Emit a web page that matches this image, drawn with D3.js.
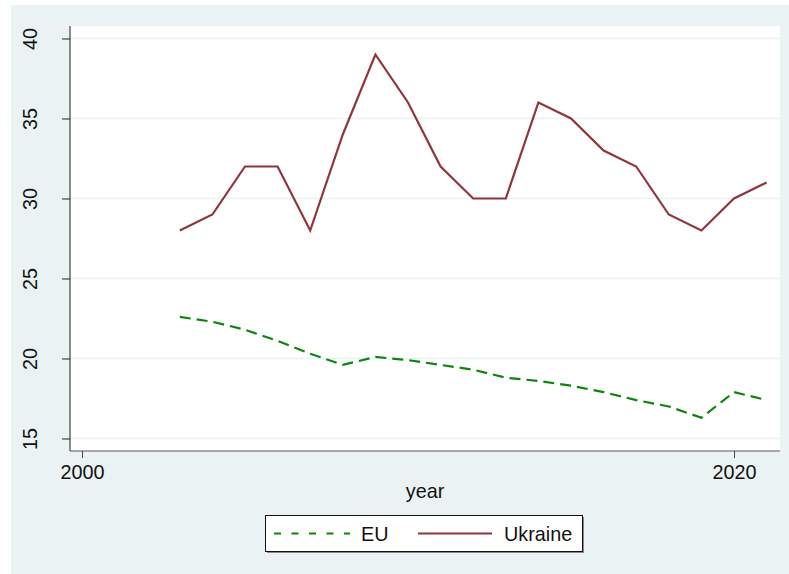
<!DOCTYPE html>
<html>
<head>
<meta charset="utf-8">
<script src="https://cdn.jsdelivr.net/npm/d3@7"></script>
<style>
  body { margin: 0; background: #fff; }
  svg { display: block; font-family: "Liberation Sans", Arial, sans-serif; }
</style>
</head>
<body>
<svg width="789" height="574"></svg>
<script>
// data
const years = [2003, 2004, 2005, 2006, 2007, 2008, 2009, 2010, 2011, 2012, 2013,
               2014, 2015, 2016, 2017, 2018, 2019, 2020, 2021];
const ukraine = [28, 29, 32, 32, 28, 34, 39, 36, 32, 30, 30, 36, 35, 33, 32, 29, 28, 30, 31];
const eu = [22.6, 22.3, 21.8, 21.1, 20.3, 19.6, 20.1, 19.9, 19.6, 19.3, 18.8,
            18.6, 18.3, 17.9, 17.4, 17.0, 16.3, 17.9, 17.4];
const yTicks = [15, 20, 25, 30, 35, 40];
const xTicks = [2000, 2020];

const fs = 19.8;
const svg = d3.select("svg");

// outer background (Stata-like)
svg.append("rect")
    .attr("x", 11).attr("y", 5)
    .attr("width", 778).attr("height", 569)
    .attr("fill", "#eaf2f3");

const plot = { left: 70, right: 780, top: 26, bottom: 451 };

svg.append("rect")
    .attr("x", plot.left).attr("y", plot.top)
    .attr("width", plot.right - plot.left).attr("height", plot.bottom - plot.top)
    .attr("fill", "#fff");

const x = d3.scaleLinear().domain([2000, 2020]).range([82, 734]);
const y = d3.scaleLinear().domain([15, 40]).range([438.5, 38.5]);

// gridlines
svg.append("g").selectAll("line")
    .data(yTicks)
    .enter()
    .append("line")
    .attr("x1", plot.left).attr("x2", plot.right)
    .attr("y1", d => y(d)).attr("y2", d => y(d))
    .attr("stroke", "#eaf2f3")
    .attr("stroke-width", 1.5);

// y axis
const yAxis = svg.append("g")
    .attr("transform", `translate(${plot.left},0)`)
    .call(d3.axisLeft(y).tickValues(yTicks).tickSize(8).tickSizeOuter(0).tickFormat(d3.format("d")));
yAxis.select(".domain").attr("d", `M0,${plot.top}V${plot.bottom}`).attr("stroke", "#222");
yAxis.selectAll(".tick line").attr("stroke", "#222");
yAxis.selectAll(".tick text")
    .attr("x", null).attr("dy", null)
    .attr("transform", "translate(-33,0) rotate(-90)")
    .attr("text-anchor", "middle")
    .attr("font-size", fs)
    .attr("fill", "#111");

// x axis
const xAxis = svg.append("g")
    .attr("transform", `translate(0,${plot.bottom})`)
    .call(d3.axisBottom(x).tickValues(xTicks).tickSize(7).tickSizeOuter(0).tickFormat(d3.format("d")));
xAxis.select(".domain").attr("d", `M${plot.left},0H${plot.right}`).attr("stroke", "#555");
xAxis.selectAll(".tick line").attr("stroke", "#444");
xAxis.selectAll(".tick text")
    .attr("y", 14)
    .attr("dy", "0.71em")
    .attr("font-size", fs)
    .attr("fill", "#111");

svg.append("text")
    .attr("x", (plot.left + plot.right) / 2)
    .attr("y", 498)
    .attr("text-anchor", "middle")
    .attr("font-size", fs)
    .attr("fill", "#111")
    .text("year");

// lines
const line = d3.line().x(d => x(d[0])).y(d => y(d[1]));

svg.append("path")
    .datum(d3.zip(years, eu))
    .attr("d", line)
    .attr("fill", "none")
    .attr("stroke", "#0a870a")
    .attr("stroke-width", 2.2)
    .attr("stroke-dasharray", "11,6");

svg.append("path")
    .datum(d3.zip(years, ukraine))
    .attr("d", line)
    .attr("fill", "none")
    .attr("stroke", "#90353b")
    .attr("stroke-width", 2.2);

// legend
const lg = svg.append("g");
lg.append("rect")
    .attr("x", 267).attr("y", 517).attr("width", 317).attr("height", 36)
    .attr("fill", "#888");
lg.append("rect")
    .attr("x", 265.5).attr("y", 515.5).attr("width", 317).attr("height", 36)
    .attr("fill", "#fff").attr("stroke", "#111").attr("stroke-width", 1);

lg.append("line")
    .attr("x1", 274).attr("x2", 350).attr("y1", 533.5).attr("y2", 533.5)
    .attr("stroke", "#0a870a").attr("stroke-width", 2.2)
    .attr("stroke-dasharray", "7,10.5");
lg.append("text")
    .attr("x", 361).attr("y", 540.5)
    .attr("font-size", fs).attr("fill", "#111")
    .text("EU");

lg.append("line")
    .attr("x1", 418).attr("x2", 492).attr("y1", 533.5).attr("y2", 533.5)
    .attr("stroke", "#90353b").attr("stroke-width", 2.2);
lg.append("text")
    .attr("x", 504).attr("y", 540.5)
    .attr("font-size", fs).attr("fill", "#111")
    .text("Ukraine");
</script>
</body>
</html>
